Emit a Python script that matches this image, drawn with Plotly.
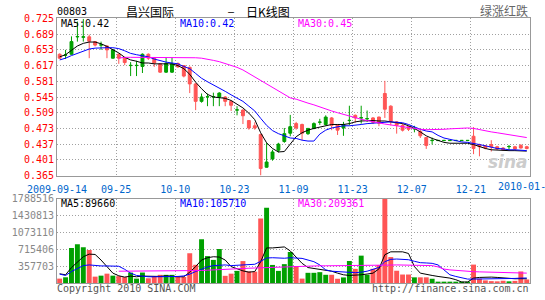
import plotly.graph_objects as go

# ---------------- data ----------------
stock_code = "00803"
stock_name = "昌兴国际"
chart_title = "日K线图"
color_note = "绿涨红跌"
copyright_text = "Copyright 2010 SINA.COM"
site_text = "http://finance.sina.com.cn"

x_labels = ["2009-09-14", "09-25", "10-10", "10-23", "11-09", "11-23", "12-07", "12-21", "2010-01-"]
price_ticks = ["0.365", "0.401", "0.437", "0.473", "0.509", "0.545", "0.581", "0.617", "0.653", "0.689", "0.725"]
volume_ticks = ["357703", "715406", "1073110", "1430813", "1788516"]

open_ = [0.643, 0.641, 0.643, 0.683, 0.682, 0.683, 0.672, 0.664, 0.662, 0.634,
         0.643, 0.634, 0.617, 0.617, 0.615, 0.643, 0.634, 0.621, 0.602, 0.602,
         0.622, 0.617, 0.613, 0.575, 0.535, 0.545, 0.545, 0.545, 0.545, 0.535,
         0.515, 0.515, 0.491, 0.479, 0.459, 0.384, 0.403, 0.423, 0.443, 0.462,
         0.484, 0.482, 0.461, 0.473, 0.487, 0.482, 0.497, 0.482, 0.474, 0.491,
         0.503, 0.497, 0.495, 0.497, 0.499, 0.553, 0.524, 0.488, 0.480, 0.477,
         0.472, 0.466, 0.452, 0.445, 0.445, 0.445, 0.445, 0.445, 0.445, 0.445,
         0.455, 0.436, 0.433, 0.436, 0.431, 0.428, 0.431, 0.431, 0.434, 0.431]
high = [0.645, 0.653, 0.684, 0.718, 0.724, 0.688, 0.673, 0.672, 0.663, 0.654,
        0.645, 0.635, 0.625, 0.628, 0.645, 0.645, 0.636, 0.623, 0.636, 0.636,
        0.624, 0.618, 0.615, 0.577, 0.553, 0.553, 0.555, 0.556, 0.547, 0.537,
        0.524, 0.517, 0.492, 0.487, 0.461, 0.440, 0.424, 0.440, 0.474, 0.504,
        0.488, 0.484, 0.474, 0.487, 0.495, 0.503, 0.499, 0.483, 0.488, 0.525,
        0.505, 0.525, 0.514, 0.499, 0.500, 0.582, 0.526, 0.490, 0.484, 0.479,
        0.479, 0.471, 0.453, 0.452, 0.4455, 0.4455, 0.4455, 0.4455, 0.4455, 0.4455,
        0.476, 0.438, 0.435, 0.446, 0.433, 0.430, 0.435, 0.433, 0.437, 0.433]
low = [0.632, 0.632, 0.642, 0.672, 0.672, 0.634, 0.661, 0.653, 0.634, 0.633,
       0.621, 0.618, 0.593, 0.593, 0.600, 0.630, 0.614, 0.600, 0.600, 0.600,
       0.612, 0.590, 0.554, 0.515, 0.532, 0.524, 0.524, 0.524, 0.524, 0.513,
       0.503, 0.483, 0.470, 0.470, 0.365, 0.383, 0.399, 0.418, 0.440, 0.455,
       0.470, 0.446, 0.458, 0.471, 0.481, 0.480, 0.469, 0.458, 0.456, 0.480,
       0.486, 0.484, 0.488, 0.483, 0.478, 0.497, 0.480, 0.461, 0.466, 0.467,
       0.464, 0.451, 0.426, 0.436, 0.445, 0.445, 0.445, 0.445, 0.445, 0.445,
       0.414, 0.409, 0.425, 0.420, 0.424, 0.422, 0.424, 0.424, 0.427, 0.425]
close = [0.634, 0.6415, 0.672, 0.6835, 0.683, 0.673, 0.664, 0.6645, 0.653, 0.653,
         0.634, 0.624, 0.6175, 0.6175, 0.643, 0.634, 0.623, 0.602, 0.622, 0.621,
         0.614, 0.593, 0.575, 0.535, 0.545, 0.5455, 0.5455, 0.554, 0.535, 0.526,
         0.5155, 0.502, 0.474, 0.474, 0.381, 0.396, 0.419, 0.437, 0.461, 0.477,
         0.474, 0.462, 0.473, 0.484, 0.4875, 0.499, 0.480, 0.469, 0.482, 0.4915,
         0.497, 0.4975, 0.4955, 0.487, 0.485, 0.517, 0.489, 0.480, 0.469, 0.471,
         0.4725, 0.456, 0.434, 0.4455, 0.4455, 0.4455, 0.4455, 0.4455, 0.4455, 0.4455,
         0.427, 0.431, 0.428, 0.431, 0.426, 0.424, 0.4315, 0.426, 0.428, 0.427]

ma5 = [0.637, 0.642, 0.652, 0.662, 0.668, 0.671, 0.671, 0.667, 0.661, 0.653,
       0.646, 0.636, 0.630, 0.627, 0.623, 0.623, 0.621, 0.621, 0.621, 0.621,
       0.617, 0.610, 0.597, 0.579, 0.564, 0.551, 0.545, 0.544, 0.542, 0.537,
       0.529, 0.520, 0.508, 0.493, 0.463, 0.440, 0.427, 0.419, 0.420, 0.437,
       0.454, 0.463, 0.469, 0.473, 0.476, 0.480, 0.482, 0.482, 0.482, 0.484,
       0.488, 0.490, 0.491, 0.491, 0.490, 0.490, 0.488, 0.486, 0.484, 0.479,
       0.473, 0.465, 0.456, 0.450, 0.445, 0.441, 0.439, 0.439, 0.439, 0.439,
       0.436, 0.431, 0.427, 0.424, 0.423, 0.422, 0.422, 0.422, 0.421, 0.421]
ma10 = [0.630, 0.634, 0.640, 0.645, 0.651, 0.655, 0.657, 0.658, 0.658, 0.658,
        0.656, 0.651, 0.645, 0.642, 0.640, 0.637, 0.632, 0.628, 0.625, 0.623,
        0.621, 0.615, 0.610, 0.599, 0.588, 0.580, 0.573, 0.565, 0.558, 0.550,
        0.543, 0.535, 0.524, 0.513, 0.496, 0.480, 0.468, 0.461, 0.456, 0.451,
        0.450, 0.446, 0.444, 0.444, 0.460, 0.469, 0.474, 0.476, 0.479, 0.479,
        0.480, 0.482, 0.484, 0.485, 0.486, 0.488, 0.488, 0.487, 0.486, 0.482,
        0.476, 0.471, 0.467, 0.465, 0.457, 0.451, 0.448, 0.445, 0.442, 0.441,
        0.439, 0.436, 0.433, 0.430, 0.427, 0.426, 0.424, 0.424, 0.423, 0.422]
ma30 = [None, None, None, None, None, None, None, None, None, None,
        0.634, 0.636, 0.636, 0.636, 0.636, 0.636, 0.636, 0.636, 0.636, 0.636,
        0.636, 0.636, 0.636, 0.635, 0.634, 0.632, 0.629, 0.626, 0.622, 0.618,
        0.613, 0.607, 0.599, 0.591, 0.583, 0.574, 0.566, 0.558, 0.550, 0.543,
        0.540, 0.535, 0.531, 0.527, 0.522, 0.518, 0.513, 0.509, 0.505, 0.501,
        0.497, 0.494, 0.491, 0.488, 0.485, 0.483, 0.481, 0.479, 0.476, 0.474,
        0.472, 0.471, 0.470, 0.470, 0.470, 0.471, 0.472, 0.473, 0.474, 0.474,
        0.473, 0.470, 0.467, 0.465, 0.463, 0.461, 0.459, 0.457, 0.455, 0.452]

volume = [93000, 121000, 744000, 823000, 760000, 698000, 135000, 156000, 198000, 156000,
          146000, 125000, 220000, 93000, 222000, 100000, 142000, 173000, 173000, 173000,
          128000, 128000, 632000, 386000, 928000, 570000, 490000, 720000, 152000, 198000,
          257000, 465000, 246000, 240000, 1370000, 1595000, 383000, 257000, 400000, 655000,
          358000, 93000, 216000, 216000, 230000, 174000, 174000, 90000, 118000, 466000,
          300000, 580000, 174000, 300000, 380000, 1788516, 550000, 260000, 180000, 180000,
          120000, 120000, 120000, 90000, 21000, 21000, 21000, 14000, 14000, 14000,
          390000, 90000, 55000, 40000, 35000, 48000, 35000, 45000, 245000, 75000]
vol_ma5 = [195000, 174000, 327000, 452000, 557000, 612000, 605000, 487000, 348000, 209000,
           153000, 125000, 146000, 132000, 146000, 139000, 132000, 139000, 153000, 139000,
           132000, 132000, 230000, 348000, 487000, 536000, 557000, 550000, 487000, 348000,
           299000, 257000, 230000, 243000, 452000, 744000, 744000, 750000, 765000, 680000,
           557000, 417000, 327000, 310000, 299000, 280000, 250000, 209000, 174000, 160000,
           160000, 174000, 190000, 209000, 299000, 600000, 661000, 661000, 661000, 626000,
           348000, 209000, 180000, 160000, 139000, 125000, 104000, 70000, 21000, 21000,
           104000, 118000, 125000, 125000, 118000, 104000, 97000, 90000, 92000, 89660]
vol_ma10 = [188000, 160000, 243000, 299000, 369000, 383000, 369000, 362000, 362000, 362000,
            355000, 290000, 210000, 160000, 140000, 132000, 132000, 132000, 132000, 139000,
            139000, 150000, 188000, 243000, 299000, 340000, 369000, 383000, 383000, 369000,
            376000, 397000, 404000, 397000, 460000, 530000, 536000, 530000, 525000, 536000,
            525000, 522000, 487000, 452000, 383000, 278000, 250000, 240000, 230000, 225000,
            218000, 230000, 250000, 290000, 330000, 452000, 501000, 508000, 508000, 494000,
            460000, 431000, 425000, 417000, 383000, 278000, 174000, 139000, 104000, 83000,
            83000, 83000, 83000, 90000, 90000, 90000, 97000, 97000, 104000, 105710]
vol_ma30 = [None, None, None, None, None, None, None, None, None, None,
            250000, 250000, 250000, 250000, 250000, 250000, 250000, 250000, 250000, 250000,
            250000, 250000, 250000, 258000, 265000, 272000, 280000, 288000, 295000, 300000,
            305000, 310000, 313000, 318000, 322000, 327000, 332000, 337000, 350000, 355000,
            360000, 365000, 365000, 365000, 365000, 365000, 365000, 365000, 365000, 365000,
            365000, 365000, 365000, 365000, 368000, 372000, 380000, 383000, 383000, 380000,
            369000, 369000, 369000, 369000, 341000, 295000, 278000, 265000, 255000, 245000,
            240000, 236000, 232000, 230000, 228000, 225000, 222000, 218000, 214000, 209361]

# ---------------- styling ----------------
W, H = 545, 300
ML, MR, MT, MB = 50, 15, 18, 14
PW, PH = W - ML - MR, H - MT - MB

GREEN = "#00a000"
RED = "#ff5555"
GRID = "#a0a0a0"
BORDER = "#999999"
DATE_BLUE = "#0066cc"
MONO = "DejaVu Sans Mono"
CJK = "Noto Sans CJK SC"


def px(x):
    return (x - ML) / PW


def py(y):
    return (H - MB - y) / PH


idx = list(range(len(close)))
up = [c >= o for o, c in zip(open_, close)]
bar_colors = [GREEN if u else RED for u in up]
grid_pos = [k * 10 - 0.45 for k in range(len(x_labels))]
x_range = [grid_pos[0], grid_pos[-1]]
# last date label is cut by the page edge in the original; drawn separately below
tick_text = x_labels[:-1] + [""]

fig = go.Figure()

fig.add_trace(go.Candlestick(
    x=idx, open=open_, high=high, low=low, close=close,
    increasing=dict(line=dict(color=GREEN, width=1), fillcolor=GREEN),
    decreasing=dict(line=dict(color=RED, width=1), fillcolor=RED),
    whiskerwidth=0, xaxis="x", yaxis="y", showlegend=False, hoverinfo="skip"))

for series, col in [(ma5, "#000000"), (ma10, "#0000ff"), (ma30, "#ff00ff")]:
    fig.add_trace(go.Scatter(x=idx, y=series, mode="lines", line=dict(color=col, width=1),
                             xaxis="x", yaxis="y", showlegend=False, hoverinfo="skip"))

fig.add_trace(go.Bar(x=idx, y=volume, marker=dict(color=bar_colors, line=dict(width=0)),
                     xaxis="x2", yaxis="y2", showlegend=False, hoverinfo="skip"))

for series, col in [(vol_ma5, "#000000"), (vol_ma10, "#0000ff"), (vol_ma30, "#ff00ff")]:
    fig.add_trace(go.Scatter(x=idx, y=series, mode="lines", line=dict(color=col, width=1),
                             xaxis="x2", yaxis="y2", showlegend=False, hoverinfo="skip"))

price_vals = [float(t) for t in price_ticks]
vol_vals = [int(t) for t in volume_ticks]

axis_common = dict(showline=True, linecolor=BORDER, linewidth=1, mirror=True,
                   showgrid=True, gridcolor=GRID, griddash="1px,2px", gridwidth=1,
                   zeroline=False, fixedrange=True)

fig.update_layout(
    width=W, height=H,
    margin=dict(l=ML, r=MR, t=MT, b=MB),
    paper_bgcolor="white", plot_bgcolor="white",
    bargap=1 / 6,
    showlegend=False,
    xaxis=dict(domain=[0, 1], anchor="y", range=x_range, tickmode="array",
               tickvals=grid_pos, ticktext=tick_text, ticks="outside", ticklen=4,
               tickcolor="rgba(0,0,0,0)",
               tickfont=dict(family=MONO, size=10, color=DATE_BLUE),
               rangeslider=dict(visible=False), **axis_common),
    yaxis=dict(domain=[py(177.3), py(18.5)], anchor="x", range=[price_vals[0], price_vals[-1]],
               tickmode="array", tickvals=price_vals, ticktext=price_ticks, ticks="",
               tickfont=dict(family=MONO, size=10, color="#ff0000"), **axis_common),
    xaxis2=dict(domain=[0, 1], anchor="y2", range=x_range, matches="x", tickmode="array",
                tickvals=grid_pos, showticklabels=False, **axis_common),
    yaxis2=dict(domain=[0, py(200.7)], anchor="x2", range=[0, vol_vals[-1]],
                tickmode="array", tickvals=vol_vals, ticktext=volume_ticks, ticks="",
                tickfont=dict(family=MONO, size=10, color="#888888"), **axis_common),
)


def note(text, x, y, color="#000000", size=10, family=MONO, anchor="left", **kw):
    fig.add_annotation(text=text, x=px(x), y=py(y), xref="paper", yref="paper",
                       xanchor=anchor, yanchor="middle", showarrow=False,
                       font=dict(family=family, size=size, color=color, **kw))


note(stock_code, 48, 11)
note(stock_name, 118, 11, size=12, family=CJK)
note("—", 222, 11)
note(chart_title, 240, 11, size=12, family=CJK)
note(color_note, 530, 10, color="#666666", size=12, family=CJK, anchor="right")

note(x_labels[-1], 496, 188, color=DATE_BLUE)

note("MA5:%.2f" % ma5[-1], 52, 24)
note("MA10:%.2f" % ma10[-1], 173, 24, color="#0000ff")
note("MA30:%.2f" % ma30[-1], 293, 24, color="#ff00ff")

note("MA5:%d" % vol_ma5[-1], 52, 205.5)
note("MA10:%d" % vol_ma10[-1], 173, 205.5, color="#0000ff")
note("MA30:%d" % vol_ma30[-1], 293, 205.5, color="#ff00ff")

note(copyright_text, 48, 291.5, color="#555555")
note(site_text, 531, 291.5, color="#555555", anchor="right")
note("sina", 530, 164, color="#cccccc", size=17, family="DejaVu Sans", anchor="right",
     style="italic", weight="bold")

fig.write_html("out.html", config={"displayModeBar": False})
